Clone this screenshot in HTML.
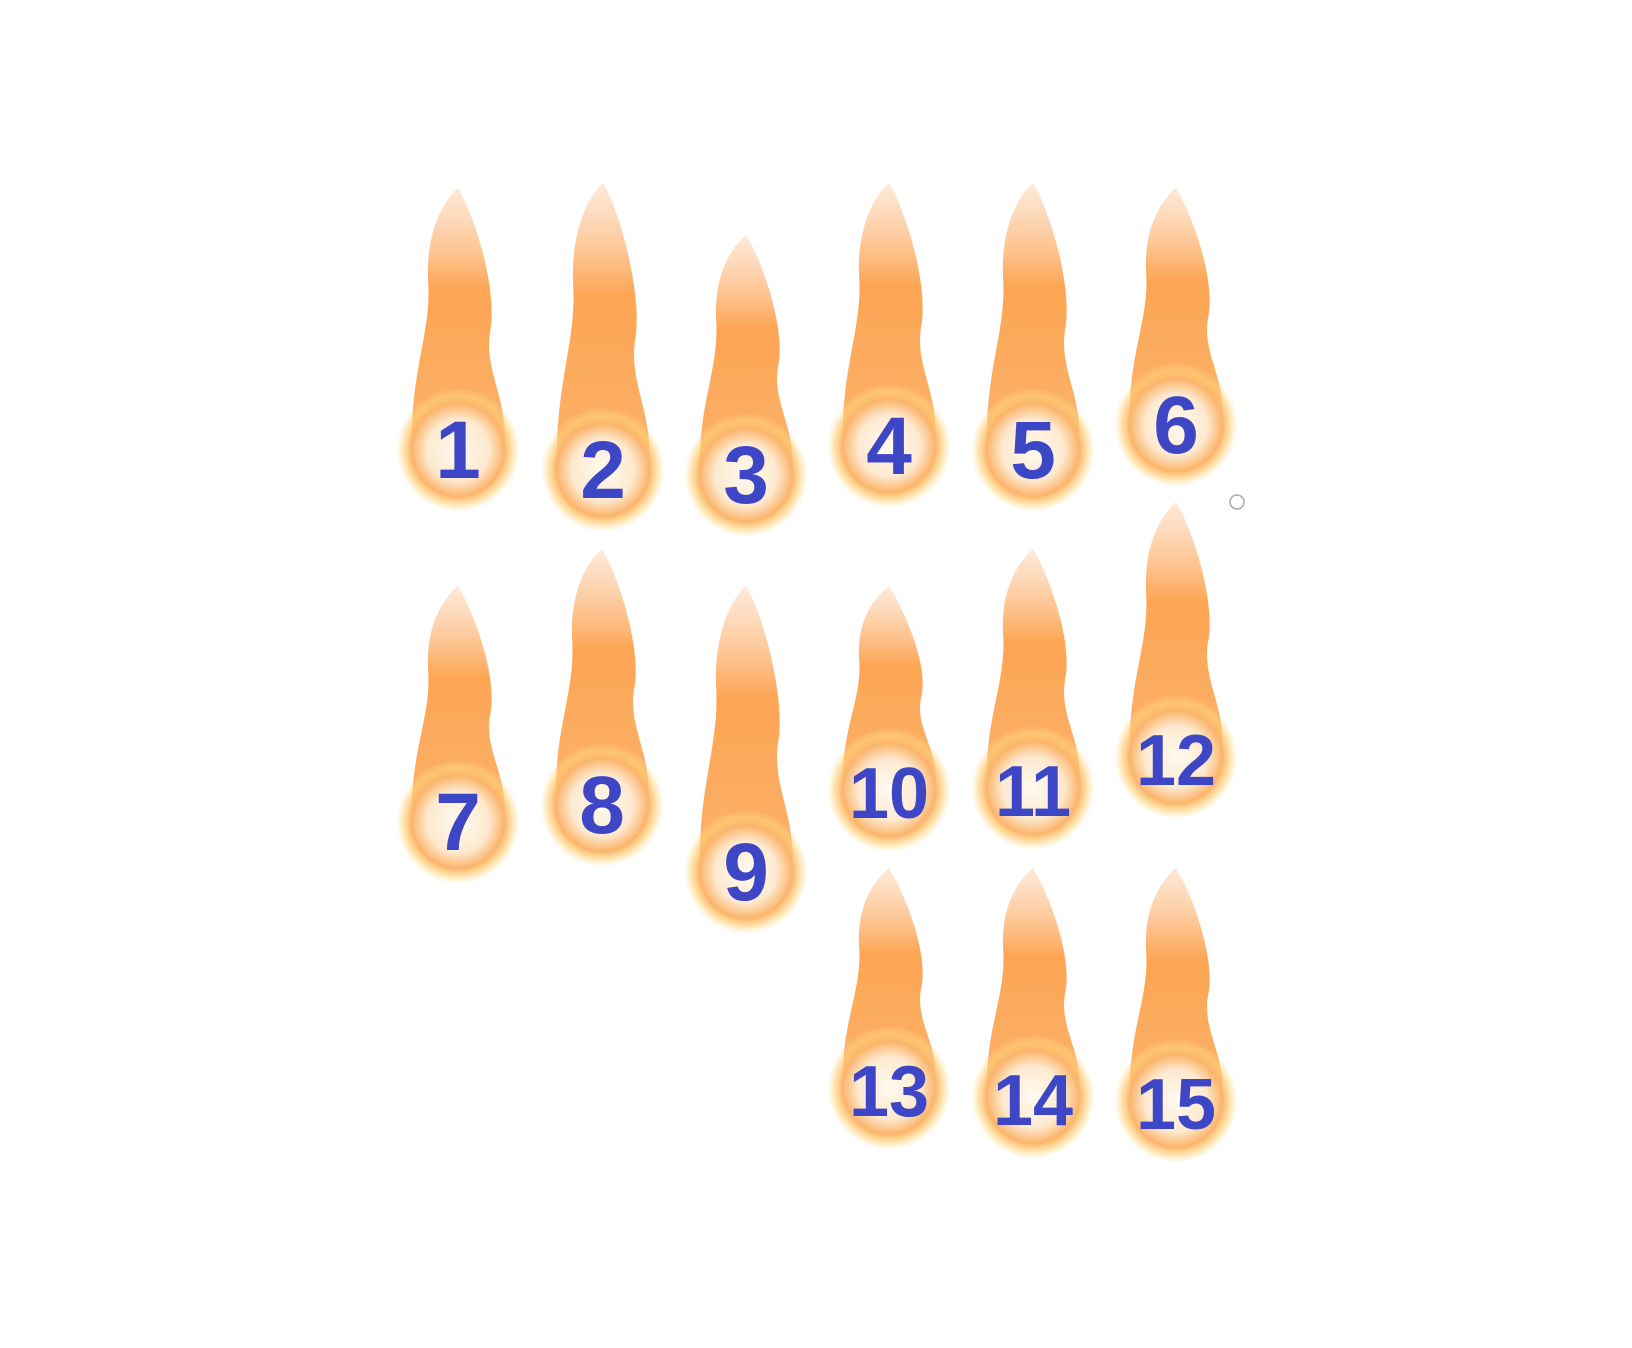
<!DOCTYPE html>
<html><head><meta charset="utf-8"><style>
html,body{margin:0;padding:0;background:#fff;width:1632px;height:1348px;overflow:hidden}
svg{display:block}
text{font-family:"Liberation Sans",sans-serif;font-weight:bold;fill:#3d47c6}
</style></head><body>
<svg id="c" width="1632" height="1348" viewBox="0 0 1632 1348">
<defs>
<radialGradient id="glow" cx="50%" cy="50%" r="50%">
<stop offset="0" stop-color="#fffaf0"/>
<stop offset="0.5" stop-color="#fde9cf"/>
<stop offset="0.75" stop-color="#fbb46a"/>
<stop offset="0.88" stop-color="#ffd27a" stop-opacity="0.6"/>
<stop offset="1" stop-color="#ffe3a0" stop-opacity="0"/>
</radialGradient>
<linearGradient id="flame" x1="0" y1="1" x2="0" y2="0">
<stop offset="0" stop-color="#fbb26a"/>
<stop offset="0.6" stop-color="#fda553"/>
<stop offset="1" stop-color="#fcc9a0" stop-opacity="0.4"/>
</linearGradient>
</defs>
<circle cx="1237" cy="502" r="7" fill="none" stroke="#aaa" stroke-width="1.5"/>
</svg>
<script>
const labels = ["1","2","3","4","5","6","7","8","9","10","11","12","13","14","15"];
const ballX = [458,603,746,889,1033,1176,458,602,746,889,1033,1176,889,1033,1176];
const ballY = [450,470,475,446,450,425,822,805,872,790,788,757,1088,1097,1101];
const flameTop = [188,183,235,183,183,188,586,549,586,586,549,502,868,868,868];
const svg = document.getElementById('c');
const NS = 'http://www.w3.org/2000/svg';
for (let i = 0; i < labels.length; i++) {
  const g = document.createElementNS(NS, 'g');
  
  
  const x = ballX[i], y = ballY[i], t = flameTop[i];
  const h = y - t;
  const f = document.createElementNS(NS, 'path');
  
  
  f.setAttribute('d', `M${x-46},${y-5} C${x-48},${y-h*0.3} ${x-26},${y-h*0.45} ${x-30},${y-h*0.65} C${x-32},${y-h*0.85} ${x-12},${t+10} ${x},${t} C${x+18},${t+30} ${x+40},${y-h*0.6} ${x+32},${y-h*0.45} C${x+26},${y-h*0.3} ${x+50},${y-h*0.2} ${x+46},${y-5} Z`);
  f.setAttribute('fill', 'url(#flame)');
  g.appendChild(f);
  const c = document.createElementNS(NS, 'circle');
  
  
  c.setAttribute('cx', x); c.setAttribute('cy', y); c.setAttribute('r', 62);
  c.setAttribute('fill', 'url(#glow)');
  g.appendChild(c);
  const tx = document.createElementNS(NS, 'text');
  
  
  tx.setAttribute('x', x); tx.setAttribute('y', y + 28);
  tx.setAttribute('text-anchor', 'middle');
  tx.setAttribute('font-size', labels[i].length > 1 ? 72 : 82);
  tx.textContent = labels[i];
  g.appendChild(tx);
  svg.appendChild(g);
}
</script>
</body></html>
